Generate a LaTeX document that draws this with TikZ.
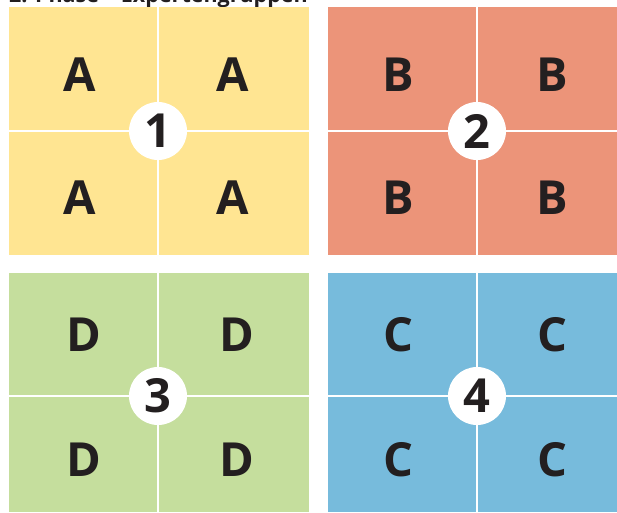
\documentclass[tikz,border=0pt]{standalone}
\usepackage{fontspec}
\setmainfont{Open Sans}
\usepackage{xcolor}
\usetikzlibrary{positioning}
\definecolor{gelb}{HTML}{FFE592}
\definecolor{rot}{HTML}{EC9479}
\definecolor{gruen}{HTML}{C5DE9D}
\definecolor{blau}{HTML}{77BBDC}
\definecolor{tinte}{HTML}{231F20}

\begin{document}
\begin{tikzpicture}[x=1pt, y=-1pt,
  feld/.style={draw=none},
  trenn/.style={white, line width=2pt},
  buchst/.style={inner sep=0pt, text=tinte, font=\fontsize{47}{47}\selectfont\bfseries},
  nummer/.style={circle, fill=white, minimum size=58pt, inner sep=0pt, text=tinte, font=\fontsize{47}{47}\selectfont\bfseries}
]
\useasboundingbox (0,0) rectangle (617,512);
\node[anchor=base west, inner sep=0pt, text=tinte, font=\fontsize{21.5}{21.5}\selectfont\bfseries] (titel) at (9,2.5) {2. Phase – Expertengruppen};
% Felder: Farbe / Rechteck / Kreuzung / Buchstabe / Nummer
\foreach \farbe/\xa/\ya/\xb/\yb/\mx/\my/\bst/\num/\lx/\rx/\oy/\uy in {
  gelb/9/7/309/255/158/131/A/1/80/233/75/198,
  rot/328/7/617/255/477/131/B/2/398/552/75/198,
  gruen/9/273/309/512/158/396/D/3/84/237/335/460,
  blau/328/273/617/512/477/396/C/4/398/552/335/460} {
  \fill[\farbe] (\xa,\ya) rectangle (\xb,\yb);
  \draw[trenn] (\mx,\ya) -- (\mx,\yb);
  \draw[trenn] (\xa,\my) -- (\xb,\my);
  \node[buchst] (\bst-lo) at (\lx,\oy) {\bst};
  \node[buchst] (\bst-ro) at (\rx,\oy) {\bst};
  \node[buchst] (\bst-lu) at (\lx,\uy) {\bst};
  \node[buchst] (\bst-ru) at (\rx,\uy) {\bst};
  \node[nummer] (nr\num) at (\mx,\my) {\num};
}
\end{tikzpicture}
\end{document}
